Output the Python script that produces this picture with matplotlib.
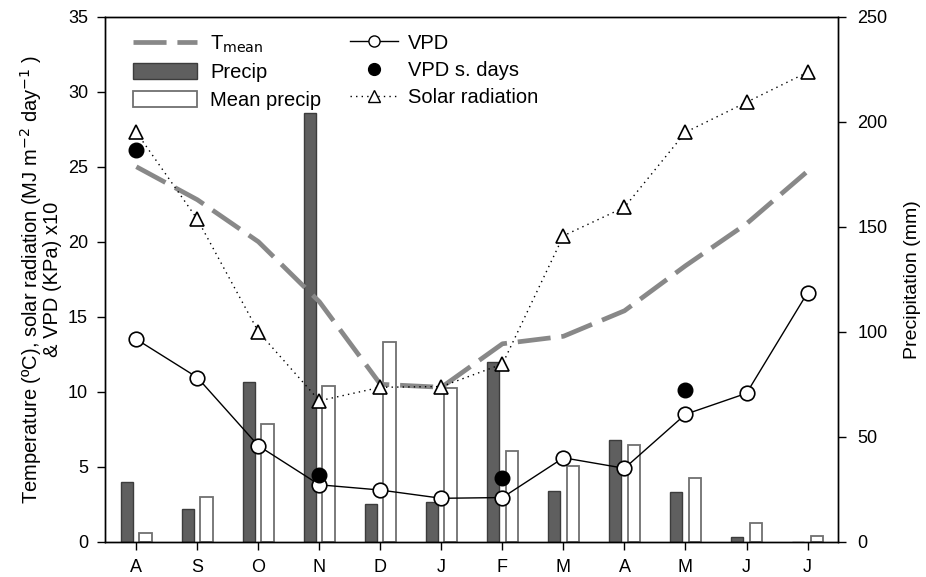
import numpy as np
import matplotlib.pyplot as plt
from matplotlib.lines import Line2D
from matplotlib.patches import Patch

plt.rcParams['font.family'] = ['Liberation Sans', 'DejaVu Sans']
plt.rcParams['font.size'] = 13

# ==================== 数据 ====================
months = ['A', 'S', 'O', 'N', 'D', 'J', 'F', 'M', 'A', 'M', 'J', 'J']
precip = [28.6, 15.6, 75.9, 204.4, 18.0, 19.0, 85.4, 24.3, 48.4, 23.8, 2.5, 0.0]
mean_precip = [4.0, 21.1, 56.0, 74.0, 94.9, 73.0, 43.0, 35.9, 46.0, 30.2, 8.9, 2.9]
t_mean = [25.0, 22.8, 20.0, 16.0, 10.5, 10.3, 13.2, 13.7, 15.4, 18.4, 21.2, 24.7]
solar = [27.3, 21.5, 14.0, 9.4, 10.3, 10.35, 11.85, 20.4, 22.3, 27.3, 29.3, 31.3]
vpd = [13.5, 10.95, 6.4, 3.8, 3.45, 2.9, 2.95, 5.6, 4.9, 8.5, 9.9, 16.6]
vpd_sdays_idx = [0, 3, 6, 9]
vpd_sdays = [26.1, 4.45, 4.27, 10.1]

x = np.arange(len(months))

TM_COLOR = '#888888'
TM_DASH = (7, 2.3)

fig, ax = plt.subplots(figsize=(9.26, 5.77), dpi=100)
fig.subplots_adjust(left=0.113, right=0.905, top=0.971, bottom=0.061)
ax2 = ax.twinx()

# 降水柱状图放在右轴
ax2.bar(x - 0.15, precip, width=0.2, color='#5f5f5f', edgecolor='#3c3c3c', linewidth=1, zorder=1)
ax2.bar(x + 0.15, mean_precip, width=0.2, color='white', edgecolor='#707070', linewidth=1.3, zorder=1)
ax2.set_ylim(0, 250)
ax2.set_yticks(np.arange(0, 251, 50))
ax2.set_ylabel('Precipitation (mm)', fontsize=14, labelpad=12)

# 折线放在左轴，并让左轴画在柱子上面
ax.set_zorder(ax2.get_zorder() + 1)
ax.patch.set_visible(False)
ax.plot(x, t_mean, color=TM_COLOR, lw=3.4, dashes=TM_DASH, solid_capstyle='butt', zorder=2)
ax.plot(x, solar, color='black', lw=1, ls=(0, (1, 3)), marker='^', ms=10,
        mfc='white', mec='black', mew=1.2, zorder=3)
ax.plot(x, vpd, color='black', lw=1, marker='o', ms=10.5, mfc='white', mec='black', mew=1.2, zorder=4)
ax.plot(x[vpd_sdays_idx], vpd_sdays, ls='none', marker='o', ms=10.5, color='black', zorder=5)

ax.set_xlim(-0.52, 11.5)
ax.set_ylim(0, 35)
ax.set_yticks(np.arange(0, 36, 5))
ax.set_xticks(x)
ax.set_xticklabels(months, fontsize=13)
ax.set_ylabel('Temperature (ºC), solar radiation (MJ m$^{-2}$ day$^{-1}$ )\n& VPD (KPa) x10',
              fontsize=14.5, linespacing=0.95, labelpad=4)

for a in (ax, ax2):
    a.tick_params(direction='out', length=6, width=1, pad=6)
    for s in a.spines.values():
        s.set_linewidth(1)
ax.tick_params(axis='x', pad=6.5)
ax2.tick_params(axis='y', pad=8)

# 图例分两列
h1 = [Line2D([], [], color=TM_COLOR, lw=3.4, dashes=TM_DASH),
      Patch(facecolor='#5f5f5f', edgecolor='#3c3c3c'),
      Patch(facecolor='white', edgecolor='#707070', linewidth=1.3)]
l1 = ['T$_{\\mathrm{mean}}$', 'Precip', 'Mean precip']
leg1 = ax.legend(h1, l1, loc='upper left', bbox_to_anchor=(0.038, 0.968), frameon=False,
                 borderpad=0, borderaxespad=0, handlelength=3.2, handleheight=0.85,
                 labelspacing=0.42, handletextpad=0.65, fontsize=14.5)
ax.add_artist(leg1)

h2 = [Line2D([], [], color='black', lw=1, marker='o', ms=8, mfc='white', mec='black'),
      Line2D([], [], ls='none', marker='o', ms=8.5, color='black'),
      Line2D([], [], color='black', lw=1, ls=(0, (1, 3)), marker='^', ms=8, mfc='white', mec='black')]
l2 = ['VPD', 'VPD s. days', 'Solar radiation']
ax.legend(h2, l2, loc='upper left', bbox_to_anchor=(0.334, 0.968), frameon=False,
          borderpad=0, borderaxespad=0, handlelength=2.4, labelspacing=0.42,
          handletextpad=0.5, fontsize=14.5)

plt.savefig('out.png', dpi=100)
